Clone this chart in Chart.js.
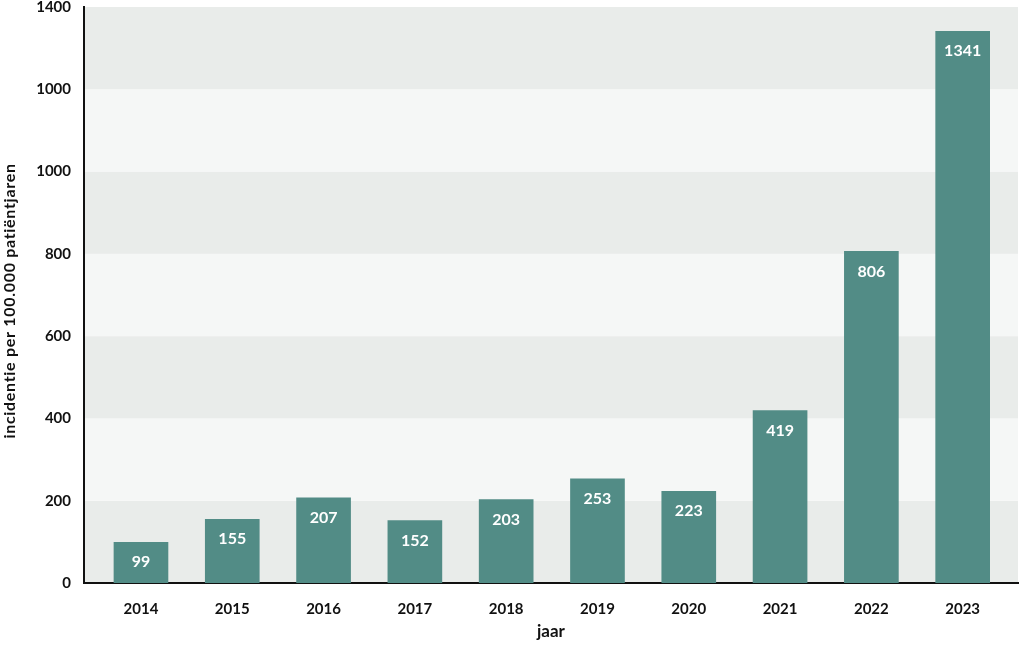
<!DOCTYPE html>
<html>
<head>
<meta charset="utf-8">
<script src="https://cdn.jsdelivr.net/npm/chart.js@4/dist/chart.umd.min.js"></script>
<style>
  html, body { margin: 0; padding: 0; background: #fff; }
  #chart { display: block; }
</style>
</head>
<body>
<canvas id="chart" width="1024" height="646"></canvas>
<script>
const years = ['2014', '2015', '2016', '2017', '2018', '2019', '2020', '2021', '2022', '2023'];
const incidence = [99, 155, 207, 152, 203, 253, 223, 419, 806, 1341];
const yTickLabels = ['0', '200', '400', '600', '800', '1000', '1000', '1400'];

const FONT = 'Lato, "Open Sans", sans-serif';
const BAR_COLOR = '#528c86';
const BAND_DARK = '#e9ecea';
const BAND_LIGHT = '#f5f7f6';

// alternating grey bands behind the bars
const bandsPlugin = {
  id: 'bands',
  beforeDraw(chart) {
    const { ctx, chartArea, scales: { y } } = chart;
    const ticks = y.ticks;
    for (let i = 0; i < ticks.length - 1; i++) {
      const top = y.getPixelForValue(ticks[i + 1].value);
      const bottom = y.getPixelForValue(ticks[i].value);
      ctx.fillStyle = i % 2 === 0 ? BAND_DARK : BAND_LIGHT;
      ctx.fillRect(chartArea.left, top, chartArea.right - chartArea.left, bottom - top);
    }
  }
};

// value inside the top of each bar
const valueLabels = {
  id: 'valueLabels',
  afterDatasetsDraw(chart) {
    const { ctx } = chart;
    const meta = chart.getDatasetMeta(0);
    ctx.save();
    ctx.fillStyle = '#ffffff';
    ctx.font = 'bold 16px ' + FONT;
    ctx.textAlign = 'center';
    ctx.textBaseline = 'middle';
    meta.data.forEach((bar, i) => {
      ctx.fillText(String(incidence[i]), bar.x, bar.y + 20);
    });
    ctx.restore();
  }
};

// y axis title drawn by hand so it lines up with the reference
const yTitle = {
  id: 'yTitle',
  afterDraw(chart) {
    const { ctx } = chart;
    ctx.save();
    ctx.translate(10, 301);
    ctx.rotate(-Math.PI / 2);
    ctx.fillStyle = '#111';
    ctx.font = 'bold 16px ' + FONT;
    ctx.letterSpacing = '0.7px';
    ctx.textAlign = 'center';
    ctx.textBaseline = 'middle';
    ctx.fillText('incidentie per 100.000 patiëntjaren', 0, 0);
    ctx.restore();
  }
};

new Chart(document.getElementById('chart'), {
  type: 'bar',
  data: {
    datasets: [{
      data: years.map((yr, i) => ({ x: i, y: incidence[i] })),
      backgroundColor: BAR_COLOR,
      barThickness: 54,
      borderWidth: 0
    }]
  },
  plugins: [bandsPlugin, valueLabels, yTitle],
  options: {
    responsive: false,
    animation: false,
    devicePixelRatio: 1,
    layout: { padding: { top: 7, right: 6, left: 0, bottom: 0 } },
    plugins: {
      legend: { display: false },
      tooltip: { enabled: false }
    },
    scales: {
      x: {
        type: 'linear',
        min: -0.624,
        max: 9.606,
        offset: false,
        grid: { display: false, drawTicks: false },
        border: { display: true, color: '#111', width: 2 },
        afterBuildTicks: scale => { scale.ticks = years.map((yr, i) => ({ value: i })); },
        afterFit: scale => {
          scale.height = 63;
          scale.paddingLeft = 0;
          scale.paddingRight = 0;
        },
        ticks: {
          autoSkip: false,
          maxRotation: 0,
          padding: 17,
          color: '#111',
          font: { family: FONT, size: 15, weight: 'bold' },
          callback: value => years[value]
        },
        title: {
          display: true,
          text: 'jaar',
          color: '#111',
          font: { family: FONT, size: 17, weight: 'bold' },
          padding: { top: 0, bottom: 4 }
        }
      },
      y: {
        min: 0,
        max: 1400,
        grid: { display: false, drawTicks: false },
        border: { display: true, color: '#111', width: 2 },
        afterFit: scale => {
          scale.width = 84;
          scale.paddingTop = 0;
          scale.paddingBottom = 0;
        },
        ticks: {
          stepSize: 200,
          padding: 13,
          color: '#111',
          font: { family: FONT, size: 15, weight: 'bold' },
          callback: (value, index) => yTickLabels[index]
        }
      }
    }
  }
});
</script>
</body>
</html>
